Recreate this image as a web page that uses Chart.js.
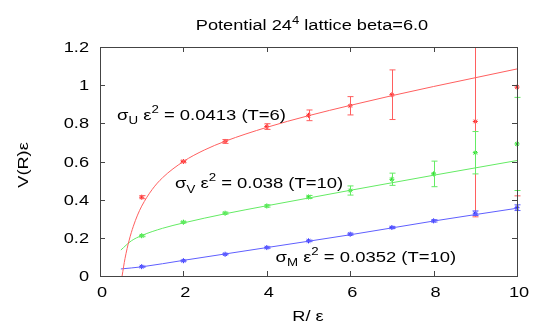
<!DOCTYPE html>
<html>
<head>
<meta charset="utf-8">
<script src="https://cdn.jsdelivr.net/npm/chart.js@4"></script>
<style>
  html, body { margin: 0; padding: 0; background: #fff; }
  canvas { display: block; }
</style>
</head>
<body>
<canvas id="potChart" width="545" height="327"></canvas>
<script>
// measured points (R, V, error)
const uR = [1, 2, 3, 4, 5, 6, 7, 9, 10];
const uV = [0.413, 0.600, 0.705, 0.783, 0.842, 0.892, 0.950, 0.81, 0.99];
const uErr = [0.008, 0.006, 0.010, 0.015, 0.028, 0.048, 0.130, 0.50, 0.57];

const vR = [1, 2, 3, 4, 5, 6, 7, 8, 9, 10];
const vV = [0.211, 0.282, 0.329, 0.367, 0.414, 0.448, 0.507, 0.535, 0.646, 0.692];
const vErr = [0.005, 0.004, 0.005, 0.006, 0.008, 0.024, 0.032, 0.067, 0.111, 0.244];

const mR = [1, 2, 3, 4, 5, 6, 7, 8, 9, 10];
const mV = [0.049, 0.080, 0.114, 0.149, 0.184, 0.219, 0.254, 0.289, 0.329, 0.358];
const mErr = [0.003, 0.003, 0.003, 0.004, 0.004, 0.005, 0.005, 0.006, 0.012, 0.015];

// fitted curves
const uFitR = [0.53, 0.6, 0.7, 0.8, 0.9, 1, 1.25, 1.5, 2, 2.5, 3, 4, 5, 6, 7, 8, 9, 10];
const uFitV = [0.0, 0.092, 0.188, 0.261, 0.319, 0.366, 0.453, 0.515, 0.600, 0.660, 0.706, 0.779, 0.840, 0.894, 0.945, 0.993, 1.039, 1.085];
const vFitR = [0.5, 0.75, 1, 1.5, 2, 3, 4, 6, 8, 10];
const vFitV = [0.136, 0.184, 0.212, 0.250, 0.278, 0.326, 0.368, 0.449, 0.528, 0.605];
const mFitR = [0.5, 1, 2, 4, 6, 8, 10];
const mFitV = [0.037, 0.048, 0.082, 0.149, 0.216, 0.288, 0.355];

const xTicks = [0, 2, 4, 6, 8, 10];
const yTicks = [0, 0.2, 0.4, 0.6, 0.8, 1, 1.2];

const RED = 'rgb(255,40,40)';
const GREEN = 'rgb(40,225,40)';
const BLUE = 'rgb(40,40,255)';
const RED_L = 'rgb(255,95,95)';
const GREEN_L = 'rgb(100,235,100)';
const BLUE_L = 'rgb(95,95,255)';

const FONT = "'Liberation Sans', Arial, sans-serif";
const SX = 1.3; // the reference text is drawn wide

const pts = (xs, ys) => xs.map((x, i) => ({ x: x, y: ys[i] }));

// text with sub/superscripts, horizontally stretched
function richText(ctx, parts, x, y, size, align, sx) {
    sx = sx || SX;
    let w = 0;
    const sizes = parts.map(p => (p.sub || p.sup) ? size * 0.72 : size);
    parts.forEach((p, i) => {
        ctx.font = sizes[i] + 'px ' + FONT;
        w += ctx.measureText(p.t).width * sx;
    });
    let cx = x;
    if (align === 'center') cx = x - w / 2;
    if (align === 'right') cx = x - w;
    parts.forEach((p, i) => {
        ctx.font = sizes[i] + 'px ' + FONT;
        let dy = 0;
        if (p.sub) dy = size * 0.3;
        if (p.sup) dy = -size * 0.45;
        ctx.save();
        ctx.translate(cx, y + dy);
        ctx.scale(sx, 1);
        ctx.fillText(p.t, 0, 0);
        ctx.restore();
        cx += ctx.measureText(p.t).width * sx;
    });
}

const errorBars = {
    id: 'errorBars',
    afterDatasetsDraw(chart) {
        const ctx = chart.ctx;
        const a = chart.chartArea;
        const xs = chart.scales.x, ys = chart.scales.y;
        const sets = [[uR, uV, uErr, RED_L], [vR, vV, vErr, GREEN_L], [mR, mV, mErr, BLUE_L]];
        ctx.save();
        ctx.beginPath();
        ctx.rect(a.left - 5, a.top, a.right - a.left + 10, a.bottom - a.top);
        ctx.clip();
        ctx.lineWidth = 1;
        sets.forEach(([r, v, e, col]) => {
            ctx.strokeStyle = col;
            r.forEach((rv, i) => {
                const px = Math.round(xs.getPixelForValue(rv)) + 0.5;
                const lo = ys.getPixelForValue(v[i] - e[i]);
                const hi = ys.getPixelForValue(v[i] + e[i]);
                ctx.beginPath();
                ctx.moveTo(px, lo); ctx.lineTo(px, hi);
                ctx.moveTo(px - 3, lo); ctx.lineTo(px + 3, lo);
                ctx.moveTo(px - 3, hi); ctx.lineTo(px + 3, hi);
                ctx.stroke();
            });
        });
        ctx.restore();
    },
    afterDraw(chart) {
        const ctx = chart.ctx;
        const a = chart.chartArea;
        const xs = chart.scales.x, ys = chart.scales.y;
        ctx.save();
        // frame and inward ticks
        ctx.strokeStyle = '#444';
        ctx.lineWidth = 1;
        ctx.strokeRect(Math.round(a.left) + 0.5, Math.round(a.top) + 0.5, Math.round(a.right - a.left), Math.round(a.bottom - a.top));
        ctx.beginPath();
        xTicks.forEach(t => {
            const px = Math.round(xs.getPixelForValue(t)) + 0.5;
            ctx.moveTo(px, a.bottom); ctx.lineTo(px, a.bottom - 5);
            ctx.moveTo(px, a.top); ctx.lineTo(px, a.top + 5);
        });
        yTicks.forEach(t => {
            const py = Math.round(ys.getPixelForValue(t)) + 0.5;
            ctx.moveTo(a.left, py); ctx.lineTo(a.left + 5, py);
            ctx.moveTo(a.right, py); ctx.lineTo(a.right - 5, py);
        });
        ctx.stroke();

        ctx.fillStyle = '#000';
        ctx.textBaseline = 'alphabetic';
        xTicks.forEach(t => {
            richText(ctx, [{ t: String(t) }], xs.getPixelForValue(t) + 2, a.bottom + 21, 14, 'center');
        });
        yTicks.forEach(t => {
            richText(ctx, [{ t: String(t) }], a.left - 11, ys.getPixelForValue(t) + 5, 14, 'right');
        });

        // title and axis titles
        richText(ctx, [{ t: 'Potential 24' }, { t: '4', sup: true }, { t: ' lattice beta=6.0' }], 312, 30, 14, 'center');
        richText(ctx, [{ t: 'R/ ε' }], 308, 321, 14, 'center');
        ctx.save();
        ctx.translate(28, 165);
        ctx.rotate(-Math.PI / 2);
        richText(ctx, [{ t: 'V(R)ε' }], 0, 0, 14, 'center');
        ctx.restore();

        // fit labels, anchored in data coordinates
        const lab = (parts, r, v) => richText(ctx, parts, xs.getPixelForValue(r), ys.getPixelForValue(v), 15, 'left', 1.23);
        lab([{ t: 'σ' }, { t: 'U', sub: true }, { t: ' ε' }, { t: '2', sup: true }, { t: ' = 0.0413 (T=6)' }], 0.41, 0.818);
        lab([{ t: 'σ' }, { t: 'V', sub: true }, { t: ' ε' }, { t: '2', sup: true }, { t: ' = 0.038 (T=10)' }], 1.8, 0.46);
        lab([{ t: 'σ' }, { t: 'M', sub: true }, { t: ' ε' }, { t: '2', sup: true }, { t: ' = 0.0352 (T=10)' }], 4.21, 0.075);
        ctx.restore();
    }
};

const fitSet = (xs, ys, col) => ({
    data: pts(xs, ys),
    showLine: true,
    borderColor: col,
    borderWidth: 1,
    pointRadius: 0,
    cubicInterpolationMode: 'monotone'
});
const pointSet = (xs, ys, col) => ({
    data: pts(xs, ys),
    showLine: false,
    borderColor: col,
    backgroundColor: col,
    borderWidth: 1,
    pointStyle: 'star',
    pointRadius: 2.5,
    clip: 5
});

new Chart(document.getElementById('potChart'), {
    type: 'scatter',
    data: {
        datasets: [
            fitSet(uFitR, uFitV, RED_L),
            fitSet(vFitR, vFitV, GREEN_L),
            fitSet(mFitR, mFitV, BLUE_L),
            pointSet(uR, uV, RED),
            pointSet(vR, vV, GREEN),
            pointSet(mR, mV, BLUE)
        ]
    },
    options: {
        responsive: false,
        animation: false,
        devicePixelRatio: 1,
        layout: { padding: { left: 100, right: 28, top: 47, bottom: 51 } },
        scales: {
            x: { type: 'linear', display: false, min: 0, max: 10 },
            y: { type: 'linear', display: false, min: 0, max: 1.2 }
        },
        plugins: {
            legend: { display: false },
            tooltip: { enabled: false },
            title: { display: false }
        }
    },
    plugins: [errorBars]
});
</script>
</body>
</html>
